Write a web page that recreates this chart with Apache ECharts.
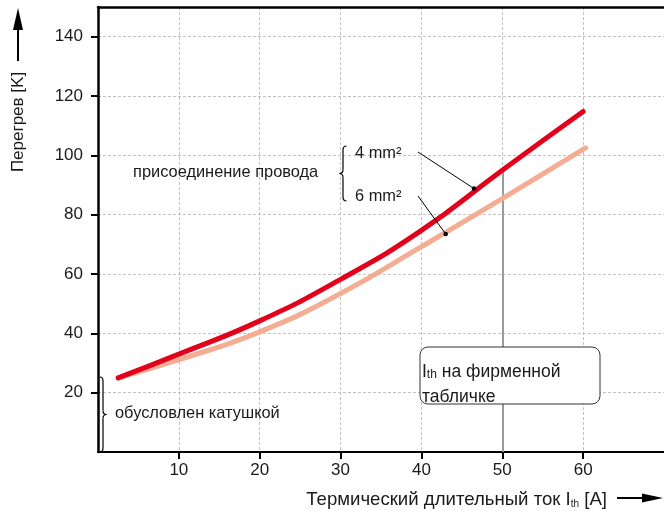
<!DOCTYPE html>
<html>
<head>
<meta charset="utf-8">
<script src="https://cdn.jsdelivr.net/npm/echarts@6/dist/echarts.min.js"></script>
<style>
  html, body { margin: 0; padding: 0; background: #fff; }
  #chart { width: 664px; height: 511px; }
</style>
</head>
<body>
<div id="chart"></div>
<script>
// Thermal current vs. temperature rise for two conductor cross-sections
const currentA = [2.5, 10, 20, 30, 40, 50, 60];
const rise4mm = [25, 33, 44.2, 58.2, 74.7, 95, 114.8];
const current6 = [2.5, 10, 20, 30, 40, 50, 60.3];
const rise6mm = [25, 31.1, 40.5, 53.4, 69.2, 85.4, 102.5];
const xTicks = [10, 20, 30, 40, 50, 60];
const yTicks = [20, 40, 60, 80, 100, 120, 140];
const ratedCurrent = 50;
const ratedRise = 95;
// where the leader lines touch each curve
const pin4 = [46.5, 88.8];
const pin6 = [43.0, 73.5];

const FONT = '"Liberation Sans", Arial, sans-serif';
const TXT = '#1a1a1a';

const chart = echarts.init(document.getElementById('chart'));

const pairs = (xs, ys) => xs.map((x, i) => [x, ys[i]]);

chart.setOption({
  animation: false,
  grid: { left: 98, right: -4, top: 7, bottom: 59, containLabel: false },
  xAxis: [{
    type: 'value', min: 0, max: 70, interval: 5,
    axisLine: { show: true, lineStyle: { color: '#000', width: 2 } },
    axisTick: { show: true, customValues: xTicks, length: 7, lineStyle: { color: '#000', width: 2 } },
    axisLabel: { customValues: xTicks, color: TXT, fontFamily: FONT, fontSize: 17, margin: 10 },
    splitLine: { show: true, lineStyle: { color: '#c2c2c2', width: 1, type: [3, 2] } }
  }, {
    type: 'value', position: 'top', min: 0, max: 70,
    axisLine: { show: true, onZero: false, lineStyle: { color: '#000', width: 2.5 } },
    axisTick: { show: false }, axisLabel: { show: false }, splitLine: { show: false }
  }],
  yAxis: {
    type: 'value', min: 0, max: 150, interval: 10,
    axisLine: { show: true, lineStyle: { color: '#000', width: 2.5 } },
    axisTick: { show: true, customValues: yTicks, length: 7, lineStyle: { color: '#000', width: 2 } },
    axisLabel: { customValues: yTicks, color: TXT, fontFamily: FONT, fontSize: 17, margin: 15 },
    splitLine: { show: true, lineStyle: { color: '#c2c2c2', width: 1, type: [3, 2] } }
  },
  series: [{
    name: '6 mm²', type: 'line', smooth: 0.5, symbol: 'none',
    data: pairs(current6, rise6mm),
    lineStyle: { color: '#f4ad92', width: 5, cap: 'round' }, z: 3
  }, {
    name: '4 mm²', type: 'line', smooth: 0.5, symbol: 'none',
    data: pairs(currentA, rise4mm),
    lineStyle: { color: '#e2001a', width: 5, cap: 'round' }, z: 4,
    markLine: {
      silent: true, symbol: 'none', label: { show: false }, z: 1,
      lineStyle: { color: '#9a9a9a', width: 2, type: 'solid' },
      data: [[{ coord: [ratedCurrent, 0] }, { coord: [ratedCurrent, ratedRise] }]]
    }
  }]
});

// curly brace built from short curves: x = spine, dir = side the tip points to
function brace(x, top, bottom, dir) {
  const h = 3.5 * dir, mid = (top + bottom) / 2, r = 4;
  const st = { stroke: '#000', lineWidth: 1.2, fill: 'none' };
  const bz = (x1, y1, x2, y2, cx, cy) => ({ type: 'bezierCurve', z: 20, shape: { x1, y1, x2, y2, cpx1: cx, cpy1: cy }, style: st });
  const ln = (x1, y1, x2, y2) => ({ type: 'line', z: 20, shape: { x1, y1, x2, y2 }, style: st });
  return [
    bz(x - h, top, x, top + r, x, top),
    ln(x, top + r, x, mid - r),
    bz(x, mid - r, x + h, mid, x, mid),
    bz(x + h, mid, x, mid + r, x, mid),
    ln(x, mid + r, x, bottom - r),
    bz(x, bottom - r, x - h, bottom, x, bottom)
  ];
}

function drawNotes() {
  const p4 = chart.convertToPixel({ gridIndex: 0 }, pin4);
  const p6 = chart.convertToPixel({ gridIndex: 0 }, pin6);
  const txt = (x, y, text) => ({
    type: 'text', x, y, z: 20,
    style: { text, fill: TXT, font: '16.4px ' + FONT, verticalAlign: 'middle' }
  });
  chart.setOption({
    graphic: [].concat([
      // vertical axis title and arrow
      {
        type: 'text', x: 18, y: 122, rotation: Math.PI / 2, z: 20,
        style: { text: 'Перегрев [K]', fill: TXT, font: '17px ' + FONT, align: 'center', verticalAlign: 'middle' }
      },
      { type: 'line', shape: { x1: 18, y1: 61, x2: 18, y2: 28 }, style: { stroke: '#000', lineWidth: 2 } },
      { type: 'polygon', shape: { points: [[18, 8], [13, 30], [23, 30]] }, style: { fill: '#000' } },
      // horizontal axis title and arrow
      {
        type: 'text', x: 607, y: 498, z: 20,
        style: {
          text: '{n|Термический длительный ток I}{s|th}{n| [A]}', align: 'right', verticalAlign: 'middle',
          rich: {
            n: { fontFamily: FONT, fontSize: 18.6, fill: TXT, lineHeight: 22, verticalAlign: 'bottom' },
            s: { fontFamily: FONT, fontSize: 10, fill: TXT, lineHeight: 22, verticalAlign: 'bottom' }
          }
        }
      },
      { type: 'line', shape: { x1: 617, y1: 498, x2: 645, y2: 498 }, style: { stroke: '#000', lineWidth: 2 } },
      { type: 'polygon', shape: { points: [[663, 498], [642, 493.5], [642, 502.5]] }, style: { fill: '#000' } },
      // conductor connection note
      txt(133, 172, 'присоединение провода'),
      txt(355, 153, '4 mm²'),
      txt(355, 196, '6 mm²'),
      { type: 'line', z: 20, shape: { x1: 418, y1: 152, x2: p4[0], y2: p4[1] }, style: { stroke: '#000', lineWidth: 1 } },
      { type: 'line', z: 20, shape: { x1: 418, y1: 196, x2: p6[0], y2: p6[1] }, style: { stroke: '#000', lineWidth: 1 } },
      { type: 'circle', z: 21, shape: { cx: p4[0], cy: p4[1], r: 2.3 }, style: { fill: '#000' } },
      { type: 'circle', z: 21, shape: { cx: p6[0], cy: p6[1], r: 2.3 }, style: { fill: '#000' } },
      // coil note
      txt(115, 413, 'обусловлен катушкой'),
      // nameplate box
      {
        type: 'rect', z: 20, shape: { x: 420, y: 347, width: 180, height: 57, r: 8 },
        style: { fill: '#fff', stroke: '#333', lineWidth: 1 }
      },
      {
        type: 'text', x: 422, y: 381, z: 21,
        style: {
          text: '{n|I}{s|th}{n| на фирменной}\n{n|табличке}', verticalAlign: 'middle',
          rich: {
            n: { fontFamily: FONT, fontSize: 17.5, fill: TXT, lineHeight: 25, verticalAlign: 'bottom' },
            s: { fontFamily: FONT, fontSize: 12, fill: TXT, lineHeight: 22, verticalAlign: 'bottom' }
          }
        }
      }
    ], brace(343, 146, 201, -1), brace(103, 377, 452, 1))
  });
}
drawNotes();
</script>
</body>
</html>
